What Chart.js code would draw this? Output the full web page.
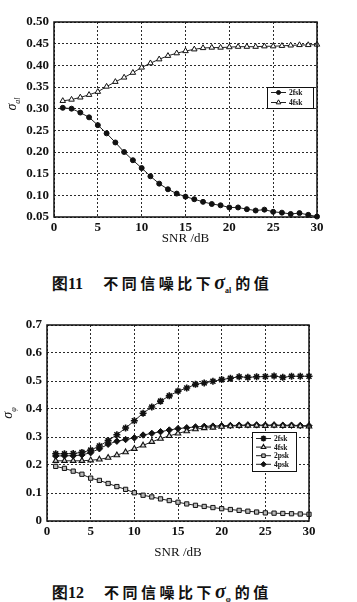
<!DOCTYPE html>
<html>
<head>
<meta charset="utf-8">
<script src="https://cdn.jsdelivr.net/npm/chart.js@4/dist/chart.umd.min.js"></script>
<style>
  html, body { margin:0; padding:0; background:#fff; }
  body { width:357px; height:602px; position:relative; overflow:hidden; }
  .wrap { position:absolute; left:0; width:357px; }
  .ytitle { position:absolute; transform:translate(-50%,-50%) rotate(-90deg); font-family:"Liberation Serif",serif; font-style:italic; font-size:14px; color:#111; white-space:nowrap; }
  .ytitle sub { font-size:8px; }
  .cap { position:absolute; left:52px; font-family:"Noto Sans CJK SC",sans-serif; font-weight:700; font-size:15px; color:#111; white-space:nowrap; letter-spacing:3.5px; }
  .cap .num { font-family:"Liberation Serif",serif; font-weight:700; font-size:16px; letter-spacing:0; margin-right:20px; }
  .cap .sig { font-family:"Liberation Serif",serif; font-style:italic; font-weight:700; font-size:20px; letter-spacing:0; }
  .cap sub { font-family:"Liberation Serif",serif; font-size:8px; letter-spacing:0; margin-right:4px; }
</style>
</head>
<body>
<div class="wrap" style="top:0;height:250px"><canvas id="c1"></canvas></div>
<div class="wrap" style="top:300px;height:265px"><canvas id="c2"></canvas></div>
<div class="ytitle" style="left:13px;top:104px">σ<sub>al</sub></div>
<div class="ytitle" style="left:9px;top:413px">σ<sub>φ</sub></div>
<div class="cap" style="top:271px"><span class="num">图11</span>不同信噪比下<span class="sig">σ</span><sub>al</sub>的值</div>
<div class="cap" style="top:580px"><span class="num">图12</span>不同信噪比下<span class="sig">σ</span><sub>φ</sub>的值</div>
<script>
// ---------- data ----------
const snr = [1,2,3,4,5,6,7,8,9,10,11,12,13,14,15,16,17,18,19,20,21,22,23,24,25,26,27,28,29,30];
const xTicks = [0,5,10,15,20,25,30];

// Figure 11 (sigma_al)
const fig11_2fsk = [0.302,0.300,0.291,0.280,0.262,0.243,0.222,0.200,0.181,0.163,0.144,0.127,0.114,0.104,0.097,0.091,0.085,0.080,0.077,0.072,0.072,0.068,0.065,0.067,0.062,0.060,0.057,0.059,0.055,0.051];
const fig11_4fsk = [0.318,0.321,0.326,0.332,0.339,0.351,0.362,0.372,0.383,0.395,0.405,0.414,0.422,0.428,0.433,0.437,0.440,0.441,0.441,0.442,0.443,0.443,0.443,0.444,0.444,0.445,0.446,0.447,0.447,0.448];
const fig11_yTicks = [0.05,0.10,0.15,0.20,0.25,0.30,0.35,0.40,0.45,0.50];
const fig11_yLabels = ["0.05","0.10","0.15","0.20","0.25","0.30","0.35","0.40","0.45","0.50"];

// Figure 12 (sigma_phi)
const fig12_2fsk = [0.240,0.240,0.241,0.245,0.253,0.268,0.287,0.308,0.332,0.358,0.385,0.407,0.428,0.447,0.464,0.475,0.488,0.493,0.499,0.505,0.510,0.515,0.513,0.515,0.516,0.518,0.513,0.517,0.517,0.517];
const fig12_4fsk = [0.215,0.215,0.215,0.215,0.217,0.220,0.226,0.235,0.246,0.258,0.270,0.283,0.294,0.304,0.313,0.321,0.328,0.332,0.334,0.337,0.339,0.340,0.341,0.341,0.340,0.341,0.340,0.340,0.339,0.338];
const fig12_2psk = [0.195,0.188,0.178,0.167,0.153,0.145,0.134,0.123,0.113,0.101,0.092,0.086,0.079,0.073,0.067,0.061,0.056,0.052,0.048,0.044,0.041,0.038,0.035,0.032,0.029,0.028,0.027,0.026,0.025,0.024];
const fig12_4psk = [0.232,0.233,0.233,0.236,0.244,0.258,0.274,0.285,0.291,0.297,0.307,0.313,0.319,0.325,0.330,0.333,0.336,0.338,0.339,0.340,0.341,0.342,0.343,0.343,0.342,0.343,0.342,0.342,0.341,0.340];
const fig12_yTicks = [0,0.1,0.2,0.3,0.4,0.5,0.6,0.7];
const fig12_yLabels = ["0","0.1","0.2","0.3","0.4","0.5","0.6","0.7"];

// ---------- helpers ----------
const pts = arr => snr.map((x,i) => ({x, y: arr[i]}));
const tickFont = {family:"Liberation Serif", size:13, weight:"bold"};

const framePlugin = {
  id:'frame',
  afterDraw(chart){
    const {ctx, chartArea:a} = chart;
    ctx.save();
    ctx.strokeStyle = '#111';
    ctx.lineWidth = 1.5;
    ctx.strokeRect(a.left, a.top, a.right-a.left, a.bottom-a.top);
    ctx.restore();
  }
};

const boxLegend = {
  id:'boxLegend',
  afterDraw(chart, args, o){
    const {ctx} = chart;
    ctx.save();
    ctx.fillStyle = '#fff';
    ctx.fillRect(o.x, o.y, o.w, o.h);
    ctx.strokeStyle = '#111';
    ctx.lineWidth = 1;
    ctx.strokeRect(o.x+0.5, o.y+0.5, o.w, o.h);
    chart.data.datasets.forEach((d, i) => {
      const yy = o.y + o.first + i*o.step;
      ctx.strokeStyle = '#222';
      ctx.lineWidth = 1;
      ctx.beginPath(); ctx.moveTo(o.x+4, yy); ctx.lineTo(o.x+19, yy); ctx.stroke();
      ctx.fillStyle = d.pointBackgroundColor;
      ctx.strokeStyle = d.pointBorderColor;
      ctx.lineWidth = d.pointBorderWidth;
      Chart.helpers.drawPoint(ctx, {pointStyle:d.pointStyle, radius:Math.max(2, d.pointRadius-0.5), rotation:0, borderWidth:d.pointBorderWidth}, o.x+11.5, yy);
      ctx.fillStyle = '#111';
      ctx.font = 'bold 7.5px "Liberation Serif"';
      ctx.textBaseline = 'middle';
      ctx.textAlign = 'left';
      ctx.fillText(d.label, o.x+22, yy+0.5);
    });
    ctx.restore();
  }
};

function ds(label, arr, style, radius, fill, bw){
  return {
    label, data: pts(arr), pointStyle: style, pointRadius: radius,
    pointBackgroundColor: fill, pointBorderColor: '#111', pointBorderWidth: bw || 1,
    borderColor: '#222', borderWidth: 1, tension: 0, fill: false
  };
}

function axes(yTicks, yLabels, yMin, yMax, yWidth, xHeight, tickPadX, titlePadBottom){
  return {
    x: {
      type:'linear', min:0, max:30,
      afterBuildTicks: s => { s.ticks = xTicks.map(v => ({value:v})); },
      ticks: { font: tickFont, color:'#111', padding: tickPadX, maxRotation:0,
               callback: v => String(v) },
      grid: { color:'#2a2a2a', lineWidth:1, drawTicks:false },
      border: { display:false, dash:[2,2] },
      title: { display:true, text:'SNR /dB', font:{family:"Liberation Serif", size:13}, color:'#111',
               padding:{top:0, bottom:titlePadBottom} },
      afterFit: s => { s.height = xHeight; }
    },
    y: {
      type:'linear', min:yMin, max:yMax,
      afterBuildTicks: s => { s.ticks = yTicks.map(v => ({value:v})); },
      ticks: { font: tickFont, color:'#111', padding:5,
               callback: (v) => { const k = yTicks.findIndex(t => Math.abs(t-v) < 1e-9); return k >= 0 ? yLabels[k] : ''; } },
      grid: { color:'#2a2a2a', lineWidth:1, drawTicks:false },
      border: { display:false, dash:[2,2] },
      afterFit: s => { s.width = yWidth; }
    }
  };
}

new Chart(document.getElementById('c1'), {
  type:'line',
  data: { datasets: [
    ds('2fsk', fig11_2fsk, 'circle', 2.5, '#111', 1),
    ds('4fsk', fig11_4fsk, 'triangle', 3.2, '#fff', 1)
  ]},
  options: {
    responsive:true, maintainAspectRatio:false, animation:false,
    layout:{ padding:{ left:0, right:40, top:22, bottom:0 } },
    clip:false,
    plugins:{ legend:{display:false}, tooltip:{enabled:false},
      boxLegend:{ x:267, y:87, w:46, h:21, first:5.5, step:10 } },
    scales: axes(fig11_yTicks, fig11_yLabels, 0.05, 0.50, 54, 33, 3, 4)
  },
  plugins:[framePlugin, boxLegend]
});

new Chart(document.getElementById('c2'), {
  type:'line',
  data: { datasets: [
    ds('2fsk', fig12_2fsk, 'star', 3.5, '#111', 1.6),
    ds('4fsk', fig12_4fsk, 'triangle', 3.2, '#ddd', 1.1),
    ds('2psk', fig12_2psk, 'rect', 3, '#bbb', 1),
    ds('4psk', fig12_4psk, 'rectRot', 3.2, '#111', 1)
  ]},
  options: {
    responsive:true, maintainAspectRatio:false, animation:false,
    layout:{ padding:{ left:0, right:48, top:25, bottom:0 } },
    clip:false,
    plugins:{ legend:{display:false}, tooltip:{enabled:false},
      boxLegend:{ x:252, y:132, w:44, h:39, first:6.5, step:8.6 } },
    scales: axes(fig12_yTicks, fig12_yLabels, 0, 0.7, 47, 44, 3, 5)
  },
  plugins:[framePlugin, boxLegend]
});
</script>
</body>
</html>
